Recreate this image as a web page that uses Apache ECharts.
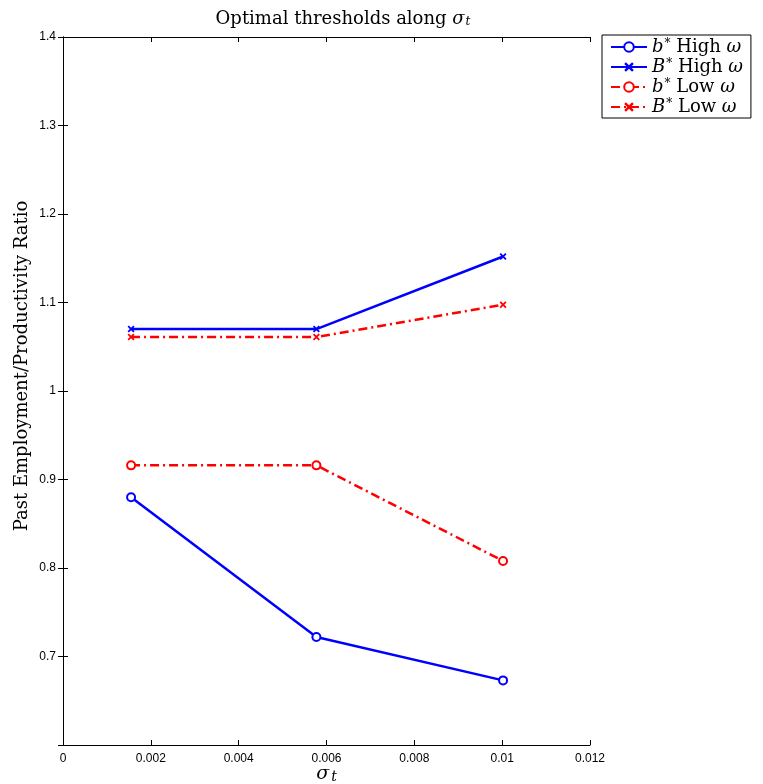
<!DOCTYPE html>
<html><head><meta charset="utf-8">
<script src="https://cdn.jsdelivr.net/npm/echarts@6/dist/echarts.min.js"></script>
<style>html,body{margin:0;padding:0;background:#fff}#c{width:763px;height:784px}</style>
</head><body><div id="c"></div>
<script>
const sigmaT = [0.00155, 0.00577, 0.01002];
const bHigh = [0.880, 0.722, 0.673];
const BHigh = [1.070, 1.070, 1.152];
const bLow = [0.916, 0.916, 0.808];
const BLow = [1.061, 1.061, 1.0975];
const seriesNames = ['bHigh', 'BHigh', 'bLow', 'BLow'];
const legendLabels = {
  bHigh: '{i|b}{s|*} High {i|ω}',
  BHigh: '{i|B}{s|*} High {i|ω}',
  bLow: '{i|b}{s|*} Low {i|ω}',
  BLow: '{i|B}{s|*} Low {i|ω}'
};
const xMin = 0, xMax = 0.012, xStep = 0.002;
const yMin = 0.6, yMax = 1.4, yStep = 0.1;

const serif = '"DejaVu Serif", "Liberation Serif", serif';
const sans = '"Liberation Sans", Arial, sans-serif';
const xPath = 'path://M0,1.8L1.8,0L5,3.2L8.2,0L10,1.8L6.8,5L10,8.2L8.2,10L5,6.8L1.8,10L0,8.2L3.2,5Z';
const dashDot = [9, 4, 2, 4];

function pairs(ys){ return ys.map((y,i)=>[sigmaT[i], y]); }

const chart = echarts.init(document.getElementById('c'), null, {renderer:'canvas'});
const axisLineStyle = {show:true, lineStyle:{color:'#000', width:1}};
chart.setOption({
  animation:false,
  backgroundColor:'#fff',
  title:{
    text:'Optimal thresholds along {i|σ}{sub|t}',
    left:338, top:5, textAlign:'center',
    textStyle:{fontFamily:serif, fontSize:18, fontWeight:'normal', color:'#000',
      rich:{i:{fontFamily:serif, fontStyle:'italic', fontSize:18},
            sub:{fontFamily:serif, fontStyle:'italic', fontSize:12, verticalAlign:'bottom', padding:[6,0,0,1]}}}
  },
  grid:{left:63, right:173, top:37, bottom:39, outerBoundsMode:'none', containLabel:false},
  legend:{
    data:seriesNames,
    orient:'vertical', left:602, top:35,
    borderColor:'#000', borderWidth:1, borderRadius:0,
    padding:[3,8,2,8], itemGap:2, itemWidth:36, itemHeight:12,
    formatter:n=>legendLabels[n],
    textStyle:{fontFamily:serif, fontSize:18, color:'#000', lineHeight:18, padding:[0,0,0,0],
      rich:{i:{fontFamily:serif, fontStyle:'italic', fontSize:18, lineHeight:18},
            s:{fontFamily:serif, fontSize:12, verticalAlign:'top', lineHeight:12, padding:[0,0,6,1]}}},
    backgroundColor:'#fff'
  },
  xAxis:[{
    type:'value', min:xMin, max:xMax, interval:xStep,
    name:'{i|σ}{sub|t}', nameLocation:'middle', nameGap:19, nameMoveOverlap:false,
    nameTextStyle:{rich:{i:{fontFamily:serif, fontStyle:'italic', fontSize:19, color:'#000'},
      sub:{fontFamily:serif, fontStyle:'italic', fontSize:14, color:'#000', verticalAlign:'bottom', padding:[6,0,0,2]}}},
    axisLine:axisLineStyle,
    axisTick:{show:true, inside:true, length:5, lineStyle:{color:'#000'}},
    axisLabel:{fontFamily:sans, fontSize:12, color:'#000', margin:8},
    splitLine:{show:false}
  },{
    type:'value', min:xMin, max:xMax, interval:xStep, position:'top',
    axisLine:axisLineStyle,
    axisTick:{show:true, inside:true, length:5, lineStyle:{color:'#000'}},
    axisLabel:{show:false}, splitLine:{show:false}
  }],
  yAxis:[{
    type:'value', min:yMin, max:yMax, interval:yStep,
    name:'Past Employment/Productivity Ratio', nameLocation:'middle', nameGap:32, nameMoveOverlap:false,
    nameTextStyle:{fontFamily:serif, fontSize:18, color:'#000', padding:[0,0,0,50]},
    axisLine:axisLineStyle,
    axisTick:{show:true, inside:true, length:5, lineStyle:{color:'#000'}},
    axisLabel:{fontFamily:sans, fontSize:12, color:'#000', margin:7,
      formatter:v=>(Math.abs(v-yMin)<1e-9?'':String(Math.round(v*10)/10))},
    splitLine:{show:false}
  },{
    type:'value', min:yMin, max:yMax, interval:yStep, position:'right',
    axisLine:axisLineStyle,
    axisTick:{show:true, inside:true, length:5, lineStyle:{color:'#000'}},
    axisLabel:{show:false}, splitLine:{show:false}
  }],
  series:[
    {name:'bHigh', type:'line', data:pairs(bHigh), symbol:'emptyCircle', symbolSize:8,
      lineStyle:{color:'#0000ff', width:2.5}, itemStyle:{color:'#0000ff', borderWidth:2.2}},
    {name:'BHigh', type:'line', data:pairs(BHigh), symbol:xPath, symbolSize:7,
      lineStyle:{color:'#0000ff', width:2.5}, itemStyle:{color:'#0000ff'}},
    {name:'bLow', type:'line', data:pairs(bLow), symbol:'emptyCircle', symbolSize:8,
      lineStyle:{color:'#ff0000', width:2.5, type:dashDot}, itemStyle:{color:'#ff0000', borderWidth:2.2}},
    {name:'BLow', type:'line', data:pairs(BLow), symbol:xPath, symbolSize:7,
      lineStyle:{color:'#ff0000', width:2.5, type:dashDot}, itemStyle:{color:'#ff0000'}}
  ]
});
</script></body></html>
